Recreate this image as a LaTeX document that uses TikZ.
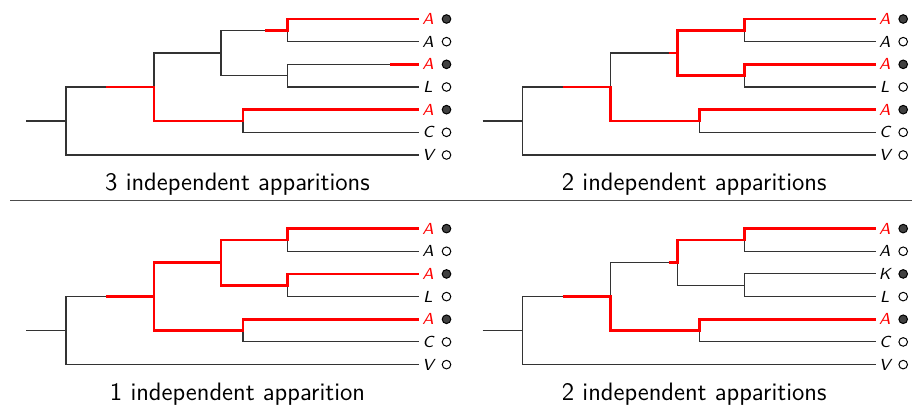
\documentclass[tikz,border=0pt]{standalone}
\begin{document}
\begin{tikzpicture}[x=0.5pt,y=-0.5pt,
  edge/.style={draw=black!80,line width=0.55pt},
  redge/.style={draw=red,line width=1.4pt},
  redlab/.style={text=red},
  blklab/.style={text=black},
  leaflab/.style={inner sep=0pt,font=\fontsize{8}{9}\selectfont\sffamily\itshape},
  full/.style={circle,draw=black,line width=0.5pt,fill=black!75,minimum size=4.3pt,inner sep=0pt},
  empty/.style={circle,draw=black,line width=0.5pt,fill=white,minimum size=4.3pt,inner sep=0pt},
  title/.style={anchor=base,inner sep=0pt,font=\fontsize{12.6}{14}\selectfont\sffamily}]
\useasboundingbox (0,0) rectangle (912,408);
\newcommand\basetree[3]{%
  \coordinate (#1st) at (26,121);
  \coordinate (#1r) at (66,121);
  \coordinate (#1n2) at (154,87);
  \coordinate (#1n3) at (243,121);
  \coordinate (#1n4) at (221,53);
  \coordinate (#1n5) at (287.5,30.33);
  \coordinate (#1n6) at (287.5,75.67);
  \coordinate (#1a2) at (106,87);
  \coordinate (#1a4) at (212,53);
  \coordinate (#1a5) at (265,30.33);
  \coordinate (#1a3) at (390,64.33);
  \foreach \i/\y/\t/\s/\f in {1/19/A/redlab/full,2/41.67/A/blklab/empty,3/64.33/#3/#2/full,4/87/L/blklab/empty,5/109.67/A/redlab/full,6/132.33/C/blklab/empty,7/155/V/blklab/empty}{
    \coordinate (#1e\i) at (419,\y);
    \node[leaflab,\s] (#1t\i) at (428,\y) {\t};
    \node[\f] (#1c\i) at (446.5,\y) {};
  }
  \draw[edge] (#1st) -- (#1r);
  \draw[edge] (#1r) |- (#1n2);
  \draw[edge] (#1r) |- (#1e7);
  \draw[edge] (#1n2) |- (#1n4);
  \draw[edge] (#1n2) |- (#1n3);
  \draw[edge] (#1n4) |- (#1n5);
  \draw[edge] (#1n4) |- (#1n6);
  \draw[edge] (#1n5) |- (#1e1);
  \draw[edge] (#1n5) |- (#1e2);
  \draw[edge] (#1n6) |- (#1e3);
  \draw[edge] (#1n6) |- (#1e4);
  \draw[edge] (#1n3) |- (#1e5);
  \draw[edge] (#1n3) |- (#1e6);
}
% top left
\begin{scope}
  \basetree{tl}{redlab}{A}
  \draw[redge] (tla2) -- (tln2) |- (tln3) |- (tle5);
  \draw[redge] (tla5) -- (tln5) |- (tle1);
  \draw[redge] (tla3) -- (tle3);
  \node[title] (tltitle) at (237.5,190.7) {3 independent apparitions};
\end{scope}
% top right
\begin{scope}[shift={(456.7,0)}]
  \basetree{tr}{redlab}{A}
  \draw[redge] (tra2) -- (trn2) |- (trn3) |- (tre5);
  \draw[redge] (tra4) -- (trn4) |- (trn5) |- (tre1);
  \draw[redge] (trn4) |- (trn6) |- (tre3);
  \node[title] (trtitle) at (237.5,190.7) {2 independent apparitions};
\end{scope}
% bottom left
\begin{scope}[shift={(0,209.6)}]
  \basetree{bl}{redlab}{A}
  \draw[redge] (bla2) -- (bln2) |- (bln3) |- (ble5);
  \draw[redge] (bln2) |- (bln4) |- (bln5) |- (ble1);
  \draw[redge] (bln4) |- (bln6) |- (ble3);
  \node[title] (bltitle) at (237.5,190.7) {1 independent apparition};
\end{scope}
% bottom right
\begin{scope}[shift={(456.7,209.6)}]
  \basetree{br}{blklab}{K}
  \draw[redge] (bra2) -- (brn2) |- (brn3) |- (bre5);
  \draw[redge] (bra4) -- (brn4) |- (brn5) |- (bre1);
  \node[title] (brtitle) at (237.5,190.7) {2 independent apparitions};
\end{scope}
\coordinate (sepl) at (10,200.5);
\coordinate (sepr) at (912,200.5);
\draw[draw=black!70,line width=0.6pt] (sepl) -- (sepr);
\end{tikzpicture}
\end{document}
